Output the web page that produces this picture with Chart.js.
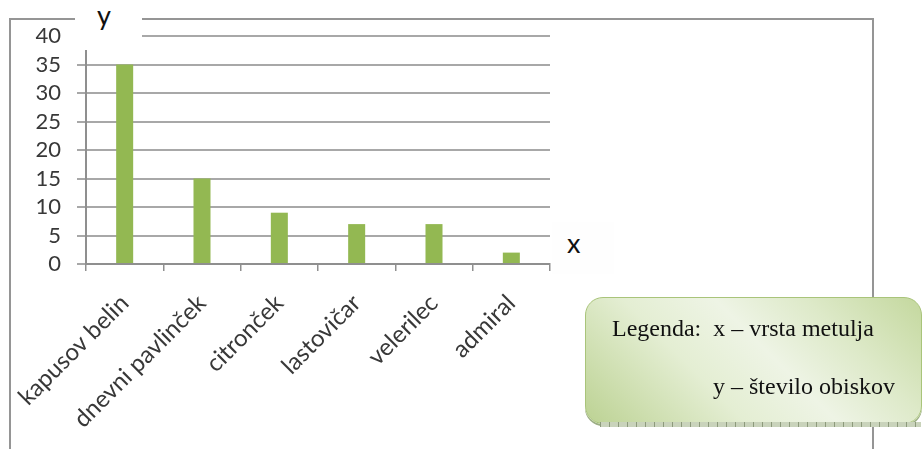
<!DOCTYPE html>
<html lang="sl">
<head>
<meta charset="utf-8">
<title>Obiski metuljev</title>
<script src="https://cdn.jsdelivr.net/npm/chart.js@4"></script>
<style>
  body { margin: 0; background: #fff; width: 922px; height: 449px; overflow: hidden; position: relative; }
  #okvir {
    position: absolute; left: 9px; top: 18px; width: 865px; height: 460px;
    border: 2px solid #959595; box-sizing: border-box; z-index: 0;
  }
  #grafica { position: absolute; left: 0; top: 0; z-index: 1; }
  .oznaka {
    position: absolute; background: #fff; z-index: 2;
    font-family: Lato, "Open Sans", sans-serif; font-size: 27px; color: #111;
  }
  #oznakaY { left: 75px; top: 0; width: 67px; height: 50px; }
  #oznakaY span { position: absolute; left: 22px; top: -2px; }
  #oznakaX { left: 552px; top: 222px; width: 62px; height: 52px; background: #fefefe; }
  #oznakaX span { position: absolute; left: 15px; top: 4px; }
  #legenda {
    position: absolute; left: 585px; top: 297px; width: 337px; height: 127px; z-index: 3;
    border-radius: 18px; border: 1px solid #a9c47a; box-sizing: border-box;
    background: linear-gradient(45deg, #bcd293 0%, #e4eed3 35%, #eef4e5 55%, #dde9c8 75%, #c4d89e 100%);
    box-shadow: 0 2px 0 #9cae84;
    font-family: "Liberation Serif", "Times New Roman", serif; font-size: 24px; line-height: 1; color: #111;
  }
  #legenda::after {
    content: ""; position: absolute; left: 14px; right: 0; bottom: -4px; height: 5px;
    background: repeating-linear-gradient(90deg, #8d9a7c 0 1px, #c9d3bb 1px 9px);
  }
  #legenda .v1 { position: absolute; left: 26px; top: 18px; white-space: pre; }
  #legenda .v2 { position: absolute; left: 127px; top: 76px; white-space: pre; }
</style>
</head>
<body>
<div id="okvir"></div>
<canvas id="grafica" width="922" height="449"></canvas>
<div class="oznaka" id="oznakaY"><span>y</span></div>
<div class="oznaka" id="oznakaX"><span>x</span></div>
<div id="legenda">
  <div class="v1">Legenda:  x – vrsta metulja</div>
  <div class="v2">y – število obiskov</div>
</div>
<script>
// Vrste metuljev (os x) in število obiskov (os y)
const vrste = ["kapusov belin", "dnevni pavlinček", "citronček", "lastovičar", "velerilec", "admiral"];
const obiski = [35, 15, 9, 7, 7, 2];
// Oznake na osi y
const oznakeY = [0, 5, 10, 15, 20, 25, 30, 35, 40];

const pisava = "Lato, 'Open Sans', sans-serif";
const sivaOs = '#8f8f8f';

const $grafica = document.querySelector("#grafica");
new Chart($grafica, {
    type: 'bar',
    data: {
        labels: vrste,
        datasets: [{
            data: obiski,
            backgroundColor: '#93b852',
            borderWidth: 0,
            barPercentage: 0.22,
            categoryPercentage: 1,
        }]
    },
    options: {
        responsive: false,
        animation: false,
        layout: { padding: { top: 36, right: 372, left: 0, bottom: 0 } },
        plugins: { legend: { display: false }, tooltip: { enabled: false } },
        scales: {
            x: {
                grid: { offset: true, drawOnChartArea: false, tickLength: 7, color: sivaOs, lineWidth: 1.5 },
                border: { color: sivaOs, width: 2 },
                ticks: { minRotation: 45, maxRotation: 45, autoSkip: false, color: '#383838', font: { family: pisava, size: 24 }, padding: 18 },
                afterFit: (os) => {
                    // poševne oznake naj ne premikajo območja grafa
                    os.height = 449 - 264;
                    os.paddingLeft = 0;
                    os.paddingRight = 0;
                }
            },
            y: {
                min: 0,
                max: 40,
                afterBuildTicks: (os) => { os.ticks = oznakeY.map(v => ({ value: v })); },
                grid: { color: '#a8a8a8', lineWidth: 2, tickLength: 9 },
                border: { color: sivaOs, width: 2 },
                ticks: { autoSkip: false, color: '#383838', font: { family: pisava, size: 22 }, padding: 16 },
                afterFit: (os) => { os.width = 86; }
            }
        }
    }
});
</script>
</body>
</html>
